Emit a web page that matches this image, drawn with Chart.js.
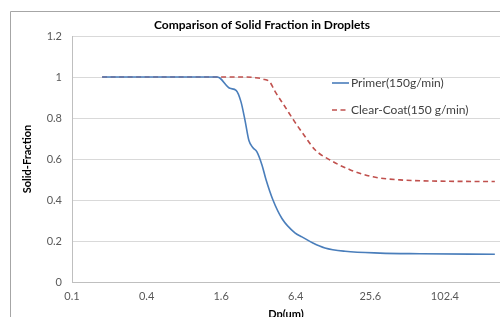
<!DOCTYPE html>
<html>
<head>
<meta charset="utf-8">
<script src="https://cdn.jsdelivr.net/npm/chart.js@4.4.1/dist/chart.umd.min.js"></script>
<style>
html,body{margin:0;padding:0;background:#fff;overflow:hidden;}
#wrap{position:relative;width:500px;height:317px;}
</style>
</head>
<body>
<div id="wrap"><canvas id="c" width="500" height="317"></canvas></div>
<script>
const chartTitle = "Comparison of Solid Fraction in Droplets";
const xAxisTitle = "Dp(um)";
const yAxisTitle = "Solid-Fraction";
const xTickValues = [0.1, 0.4, 1.6, 6.4, 25.6, 102.4];
const xTickLabels = ["0.1", "0.4", "1.6", "6.4", "25.6", "102.4"];
const seriesNames = ["Primer(150g/min)", "Clear-Coat(150 g/min)"];

const primerDp = [0.175, 1.48, 1.56, 1.88, 2.11, 2.31, 2.49, 2.68, 2.89, 3.11, 3.42, 3.68, 4.19, 4.95, 6.3, 7.18, 8.8, 11.0, 16.0, 30.6, 64, 259];
const primerSF = [1, 1, 0.995, 0.945, 0.935, 0.88, 0.79, 0.69, 0.655, 0.635, 0.57, 0.50, 0.40, 0.31, 0.24, 0.22, 0.19, 0.166, 0.15, 0.141, 0.138, 0.135];

const clearDp = [0.175, 2.5, 3.0, 3.48, 3.96, 4.35, 5.24, 6.3, 7.6, 9.15, 12.1, 17.5, 26.9, 44.4, 93, 259];
const clearSF = [1, 1, 0.997, 0.99, 0.975, 0.93, 0.855, 0.78, 0.71, 0.645, 0.595, 0.548, 0.513, 0.498, 0.492, 0.49];

const FONT = "Lato, 'Open Sans', sans-serif";
const blue = "#4a7ebb";
const red = "#c0504d";
const redDash = [5, 3.5];

const decor = {
  id: 'decor',
  beforeDraw(chart) {
    const ctx = chart.ctx;
    ctx.save();
    ctx.fillStyle = '#fff';
    ctx.fillRect(0, 0, chart.width, chart.height);
    ctx.strokeStyle = '#a6a6a6';
    ctx.lineWidth = 1;
    ctx.beginPath();
    ctx.moveTo(10.5, chart.height + 2);
    ctx.lineTo(10.5, 11.5);
    ctx.lineTo(chart.width + 2, 11.5);
    ctx.stroke();
    ctx.restore();
  },
  afterDraw(chart) {
    const ctx = chart.ctx;
    const a = chart.chartArea;
    ctx.save();
    ctx.fillStyle = '#000';
    ctx.textAlign = 'center';
    ctx.textBaseline = 'middle';
    ctx.font = "bold 12px " + FONT;
    ctx.fillText(chartTitle, 262, 25);
    ctx.font = "bold 11px " + FONT;
    ctx.textBaseline = 'alphabetic';
    ctx.fillText(xAxisTitle, (a.left + a.right) / 2, 318);
    ctx.save();
    ctx.translate(31, (a.top + a.bottom) / 2);
    ctx.rotate(-Math.PI / 2);
    ctx.textBaseline = 'alphabetic';
    ctx.fillText(yAxisTitle, 0, 0);
    ctx.restore();
    // legend
    const items = [
      {name: seriesNames[0], color: blue, dash: [], y: 83},
      {name: seriesNames[1], color: red, dash: redDash, y: 110}
    ];
    ctx.font = "12px " + FONT;
    ctx.textAlign = 'left';
    ctx.textBaseline = 'middle';
    items.forEach(it => {
      ctx.strokeStyle = it.color;
      ctx.lineWidth = 1.6;
      ctx.setLineDash(it.dash);
      ctx.beginPath();
      ctx.moveTo(332, it.y);
      ctx.lineTo(349, it.y);
      ctx.stroke();
      ctx.setLineDash([]);
      ctx.fillStyle = '#404040';
      ctx.fillText(it.name, 351, it.y);
    });
    ctx.restore();
  }
};

new Chart(document.getElementById('c'), {
  type: 'line',
  data: {
    datasets: [
      {
        label: seriesNames[0],
        data: primerDp.map((x, i) => ({x: x, y: primerSF[i]})),
        borderColor: blue,
        borderWidth: 1.6,
        pointRadius: 0,
        tension: 0.4,
        cubicInterpolationMode: 'monotone',
        fill: false
      },
      {
        label: seriesNames[1],
        data: clearDp.map((x, i) => ({x: x, y: clearSF[i]})),
        borderColor: red,
        borderWidth: 1.6,
        borderDash: redDash,
        pointRadius: 0,
        tension: 0.4,
        cubicInterpolationMode: 'monotone',
        fill: false
      }
    ]
  },
  options: {
    responsive: false,
    animation: false,
    devicePixelRatio: 1,
    layout: {padding: {top: 36, right: 0, left: 0, bottom: 0}},
    plugins: {legend: {display: false}, title: {display: false}, tooltip: {enabled: false}},
    scales: {
      x: {
        type: 'logarithmic',
        min: 0.1,
        max: 285,
        afterBuildTicks(scale) { scale.ticks = xTickValues.map(v => ({value: v})); },
        afterFit(scale) { scale.height = 35; },
        ticks: {
          autoSkip: false,
          maxRotation: 0,
          padding: 8,
          color: '#595959',
          font: {family: FONT, size: 11},
          callback(value) {
            const i = xTickValues.findIndex(v => Math.abs(v - value) < 1e-6 * v);
            return i >= 0 ? xTickLabels[i] : '';
          }
        },
        grid: {display: false, drawTicks: false},
        border: {display: true, color: '#bfbfbf', width: 1}
      },
      y: {
        min: 0,
        max: 1.2,
        afterFit(scale) { scale.width = 72; },
        ticks: {
          stepSize: 0.2,
          padding: 10,
          color: '#595959',
          font: {family: FONT, size: 11},
          callback(value) { return String(Math.round(value * 10) / 10); }
        },
        grid: {color: '#d9d9d9', lineWidth: 1, drawTicks: false},
        border: {display: true, color: '#bfbfbf', width: 1}
      }
    }
  },
  plugins: [decor]
});
</script>
</body>
</html>
